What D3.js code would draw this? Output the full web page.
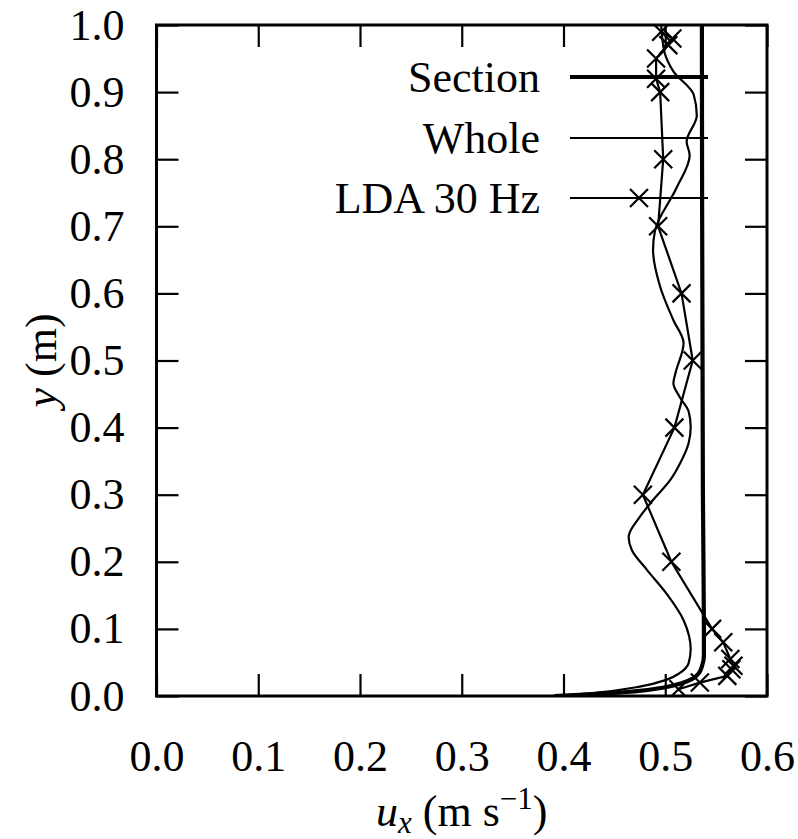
<!DOCTYPE html>
<html>
<head>
<meta charset="utf-8">
<script src="https://cdn.jsdelivr.net/npm/d3@7"></script>
<style>
  body { margin: 0; background: #fff; }
  svg text { font-family: "Liberation Serif", "DejaVu Serif", serif; fill: #000; }
</style>
</head>
<body>
<div id="chart"></div>
<script>

// LDA 30 Hz measurements
var ldaY = [0.01, 0.02, 0.03, 0.04, 0.045, 0.055, 0.08, 0.10, 0.20, 0.30, 0.40, 0.50, 0.60, 0.70, 0.80, 0.90, 0.92, 0.95, 0.97, 0.98, 0.99];
var ldaU = [0.513, 0.534, 0.561, 0.565, 0.567, 0.564, 0.557, 0.546, 0.506, 0.478, 0.509, 0.527, 0.516, 0.493, 0.498, 0.495, 0.491, 0.491, 0.503, 0.507, 0.496];

// "Whole" profile
var wholeY = [0.000, 0.004, 0.014, 0.024, 0.034, 0.049, 0.070, 0.113, 0.153, 0.188, 0.218, 0.237, 0.267, 0.292, 0.322, 0.345, 0.377, 0.401, 0.424, 0.446, 0.466, 0.481, 0.526, 0.560, 0.610, 0.665, 0.694, 0.757, 0.806, 0.826, 0.865, 0.896, 0.931, 0.961, 1.000];
var wholeU = [0.391, 0.426, 0.475, 0.501, 0.514, 0.523, 0.525, 0.518, 0.501, 0.482, 0.467, 0.464, 0.475, 0.488, 0.505, 0.514, 0.523, 0.525, 0.523, 0.514, 0.508, 0.510, 0.518, 0.508, 0.495, 0.488, 0.490, 0.511, 0.524, 0.521, 0.531, 0.528, 0.508, 0.499, 0.496];

// "Section" profile
var sectionY = [0.000, 0.003, 0.007, 0.013, 0.019, 0.026, 0.034, 0.044, 0.060, 0.100, 0.300, 1.000];
var sectionU = [0.391, 0.430, 0.470, 0.500, 0.516, 0.527, 0.533, 0.536, 0.538, 0.538, 0.537, 0.536];

var xTicks = [0.0, 0.1, 0.2, 0.3, 0.4, 0.5, 0.6];
var yTicks = [0.0, 0.1, 0.2, 0.3, 0.4, 0.5, 0.6, 0.7, 0.8, 0.9, 1.0];
var legendLabels = ["Section", "Whole", "LDA 30 Hz"];

var W = 798, H = 839;
var plotL = 156.5, plotR = 767, plotT = 25, plotB = 696;
var fontSize = 44;

var svg = d3.select("#chart").append("svg")
    .attr("width", W)
    .attr("height", H);

var x = d3.scaleLinear().domain([0, 0.6]).range([plotL, plotR]);
var y = d3.scaleLinear().domain([0, 1]).range([plotB, plotT]);

function zip(us, ys) {
    return us.map(function(u, i) { return {u: u, y: ys[i]}; });
}
var lda = zip(ldaU, ldaY);
var whole = zip(wholeU, wholeY);
var section = zip(sectionU, sectionY);

var smooth = d3.line()
    .x(function(d) { return x(d.u); })
    .y(function(d) { return y(d.y); })
    .curve(d3.curveMonotoneY);

var straight = d3.line()
    .x(function(d) { return x(d.u); })
    .y(function(d) { return y(d.y); });

svg.append("clipPath").attr("id", "clip")
  .append("rect")
    .attr("x", plotL).attr("y", plotT)
    .attr("width", plotR - plotL).attr("height", plotB - plotT);

var plot = svg.append("g").attr("clip-path", "url(#clip)");

// whole
plot.append("path")
    .datum(whole)
    .attr("d", smooth)
    .attr("fill", "none")
    .attr("stroke", "#000")
    .attr("stroke-width", 2.2);

// lda line + crosses
plot.append("path")
    .datum(lda)
    .attr("d", straight)
    .attr("fill", "none")
    .attr("stroke", "#000")
    .attr("stroke-width", 2.2);

var crossSize = 9;
function cross(sel) {
    sel.append("path")
        .attr("d", "M" + (-crossSize) + "," + (-crossSize) + "L" + crossSize + "," + crossSize +
                   "M" + (-crossSize) + "," + crossSize + "L" + crossSize + "," + (-crossSize))
        .attr("stroke", "#000")
        .attr("stroke-width", 2.2)
        .attr("fill", "none");
}

plot.selectAll(".mark")
    .data(lda)
    .enter().append("g")
    .attr("class", "mark")
    .attr("transform", function(d) { return "translate(" + x(d.u) + "," + y(d.y) + ")"; })
    .call(cross);

// section
plot.append("path")
    .datum(section)
    .attr("d", smooth)
    .attr("fill", "none")
    .attr("stroke", "#000")
    .attr("stroke-width", 4.2);

// legend
var legendRowY = [77, 138, 198];
var legendWidths = [4.2, 2.2, 2.2];
var legend = svg.selectAll(".legend")
    .data(legendLabels)
    .enter().append("g")
    .attr("class", "legend")
    .attr("transform", function(d, i) { return "translate(0," + legendRowY[i] + ")"; });

legend.append("text")
    .attr("x", 540)
    .attr("y", 15)
    .attr("text-anchor", "end")
    .style("font-size", fontSize + "px")
    .text(function(d) { return d; });

legend.append("line")
    .attr("x1", 570).attr("x2", 708)
    .attr("y1", 0).attr("y2", 0)
    .attr("stroke", "#000")
    .attr("stroke-width", function(d, i) { return legendWidths[i]; });

legend.filter(function(d, i) { return i == 2; })
  .append("g")
    .attr("transform", "translate(639,0)")
    .call(cross);

// axes (ticks on all sides, pointing inward)
var tickLen = 22;

var xAxis = svg.append("g")
    .attr("transform", "translate(0," + plotB + ")")
    .call(d3.axisBottom(x).tickValues(xTicks).tickSizeInner(-tickLen).tickSizeOuter(0)
        .tickFormat(d3.format(".1f")));
xAxis.selectAll("text")
    .attr("dy", null)
    .attr("y", 75)
    .style("font-size", fontSize + "px");

svg.append("g")
    .attr("transform", "translate(0," + plotT + ")")
    .call(d3.axisTop(x).tickValues(xTicks).tickSizeInner(-tickLen).tickSizeOuter(0).tickFormat(""));

var yAxis = svg.append("g")
    .attr("transform", "translate(" + plotL + ",0)")
    .call(d3.axisLeft(y).tickValues(yTicks).tickSizeInner(-tickLen).tickSizeOuter(0)
        .tickPadding(32).tickFormat(d3.format(".1f")));
yAxis.selectAll("text")
    .style("font-size", fontSize + "px");

svg.append("g")
    .attr("transform", "translate(" + plotR + ",0)")
    .call(d3.axisRight(y).tickValues(yTicks).tickSizeInner(-tickLen).tickSizeOuter(0).tickFormat(""));

svg.selectAll(".tick line").attr("stroke-width", 2.2);
svg.selectAll(".domain").remove();

// frame
svg.append("rect")
    .attr("x", plotL).attr("y", plotT)
    .attr("width", plotR - plotL).attr("height", plotB - plotT)
    .attr("fill", "none")
    .attr("stroke", "#000")
    .attr("stroke-width", 3);

// axis titles
var xt = svg.append("text")
    .attr("x", (plotL + plotR) / 2)
    .attr("y", 826)
    .attr("text-anchor", "middle")
    .style("font-size", fontSize + "px");
xt.append("tspan").style("font-style", "italic").text("u");
xt.append("tspan").style("font-style", "italic").style("font-size", "31px").attr("dy", 7).text("x");
xt.append("tspan").attr("dy", -7).text(" (m s");
xt.append("tspan").style("font-size", "31px").attr("dy", -17).text("\u22121");
xt.append("tspan").attr("dy", 17).text(")");

var yt = svg.append("text")
    .attr("transform", "translate(56," + ((plotT + plotB) / 2) + ") rotate(-90)")
    .attr("text-anchor", "middle")
    .style("font-size", fontSize + "px");
yt.append("tspan").style("font-style", "italic").text("y");
yt.append("tspan").text(" (m)");

</script>
</body>
</html>
